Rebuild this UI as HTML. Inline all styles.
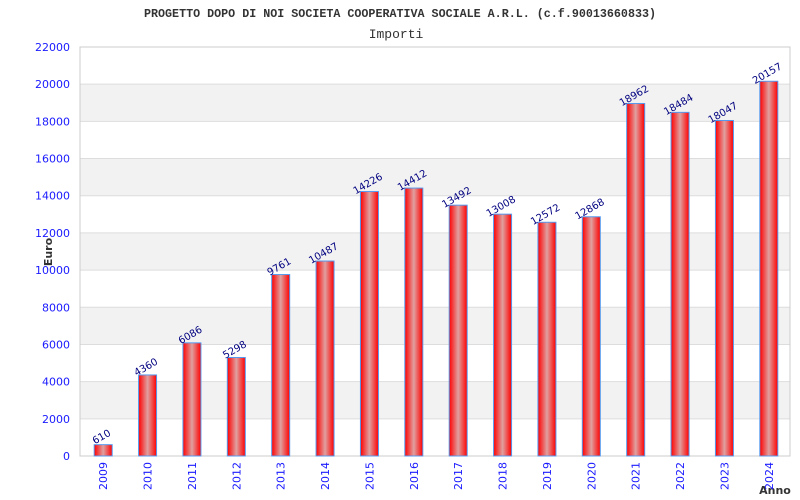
<!DOCTYPE html>
<html><head><meta charset="utf-8"><style>
body{margin:0;background:#fff;}
svg{display:block;font-family:"DejaVu Sans","Liberation Sans",sans-serif;}
</style></head><body>
<svg id="c" width="800" height="500">
<defs><linearGradient id="g" x1="0" x2="1" y1="0" y2="0">
<stop offset="0" stop-color="#ff0000"/><stop offset="0.5" stop-color="#e0a0a0"/><stop offset="1" stop-color="#ff0000"/></linearGradient></defs>
<text x="400" y="17" text-anchor="middle" font-family="Liberation Mono, monospace" font-weight="bold" font-size="11.7" fill="#333">PROGETTO DOPO DI NOI SOCIETA COOPERATIVA SOCIALE A.R.L. (c.f.90013660833)</text>
<text x="396" y="38" text-anchor="middle" font-family="Liberation Mono, monospace" font-size="13" fill="#333">Importi</text>
<text x="52" y="252" text-anchor="middle" font-size="11" font-weight="bold" fill="#333" transform="rotate(-90 52 252)">Euro</text>
<text x="775" y="494" text-anchor="middle" font-size="11" font-weight="bold" fill="#333">Anno</text>
<g id="grid"></g><g id="bars"></g>
</svg>
<script>
const years=["2009","2010","2011","2012","2013","2014","2015","2016","2017","2018","2019","2020","2021","2022","2023","2024"];
const values=[610,4360,6086,5298,9761,10487,14226,14412,13492,13008,12572,12868,18962,18484,18047,20157];
const yTicks=[0,2000,4000,6000,8000,10000,12000,14000,16000,18000,20000,22000];
const NS="http://www.w3.org/2000/svg";
const L=80,R=790,T=47,B=456,yMax=22000;
const y=v=>B-(v/yMax)*(B-T);
const step=(R-L)/years.length;
const x=i=>L+1+step*(i+0.5);
function mk(t,a,p){const e=document.createElementNS(NS,t);for(const k in a)e.setAttribute(k,a[k]);p.appendChild(e);return e;}
const grid=document.getElementById('grid'),bars=document.getElementById('bars');
for(let i=0;i<yTicks.length-1;i++){
 if(i%2===1){const r=mk('rect',{x:L,y:y(yTicks[i+1]),width:R-L,height:y(yTicks[i])-y(yTicks[i+1]),fill:'#f2f2f2'},grid);
 
 }
}
yTicks.forEach(v=>{
 const l=mk('line',{x1:L,x2:R,y1:y(v),y2:y(v),stroke:'#ddd'},grid);
 
 
 const t=mk('text',{x:70,y:y(v)+4,'text-anchor':'end','font-size':'11',fill:'#1a1aff'},grid);t.textContent=v;
 
 
});
mk('rect',{x:L,y:T,width:R-L,height:B-T,fill:'none',stroke:'#ccc'},grid);
values.forEach((v,i)=>{
 const cx=x(i),w=18;
 const r=mk('rect',{x:cx-w/2,y:y(v),width:w,height:B-y(v),fill:'url(#g)',stroke:'#5599ee','stroke-width':'1'},bars);
 
 
 const t=mk('text',{x:cx,y:y(v)-5,'text-anchor':'middle','font-size':'10',fill:'#000080',transform:`rotate(-30 ${cx} ${y(v)-5})`},bars);t.textContent=v;
 
 
 const yl=mk('text',{x:cx+4,y:462,'text-anchor':'end','font-size':'11',fill:'#1a1aff',transform:`rotate(-90 ${cx+4} 462)`},bars);yl.textContent=years[i];
 
 
});
</script>
</body></html>
